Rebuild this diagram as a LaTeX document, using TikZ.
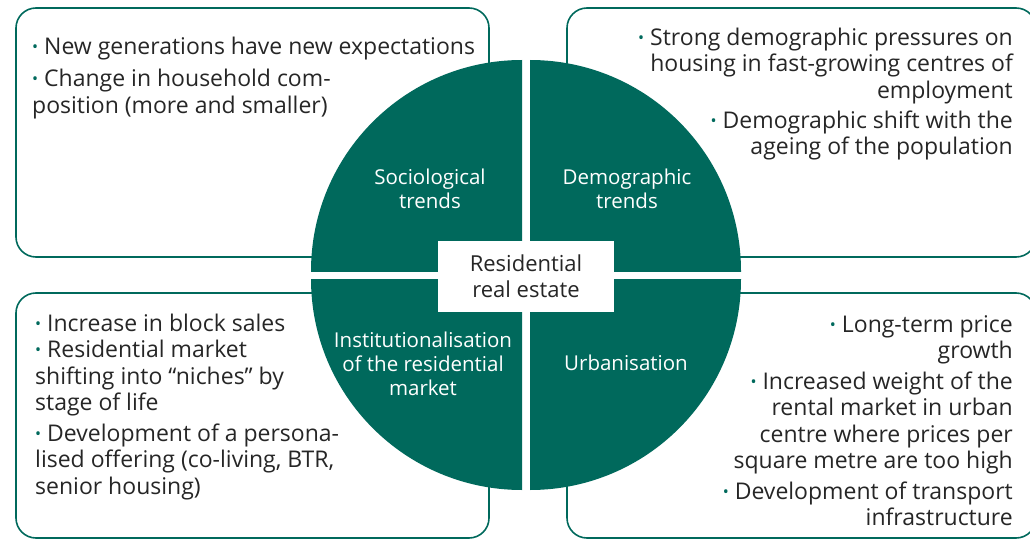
\documentclass[tikz,border=0pt]{standalone}
\usepackage{fontspec}
\setmainfont{Open Sans}
\usetikzlibrary{positioning}
\definecolor{forest}{HTML}{00695C}
\definecolor{ink}{HTML}{262626}
\tikzstyle{trendbox}=[
	rounded corners=20,
	draw=forest,
	line width=1.6]
\tikzstyle{points}=[
	inner sep=0,
	text=ink,
	font=\fontsize{23}{26.5}\selectfont]
\tikzstyle{quarter}=[
	text=white,
	align=center,
	font=\fontsize{20.5}{24}\selectfont]
\newcommand{\bul}{\raisebox{2pt}{\color{forest}\fontsize{16}{16}\selectfont•}\ }

\begin{document}
\begin{tikzpicture}[x=1pt,y=-1pt]
	\useasboundingbox (0,0) rectangle (1030,540);
	\clip (0,0) rectangle (1030,540);
	% the four frames
	\draw[trendbox] (16,8) rectangle (489,257);
	\draw[trendbox] (567,8) rectangle (1036,257);
	\draw[trendbox] (16,293) rectangle (489,538);
	\draw[trendbox] (567,293) rectangle (1036,538);
	% the disc, cut in quarters
	\begin{scope}
		\clip (0,0) rectangle (522,271);
		\fill[forest] (522,271) circle (211pt);
	\end{scope}
	\begin{scope}
		\clip (530,0) rectangle (1030,271);
		\fill[forest] (530,271) circle (211pt);
	\end{scope}
	\begin{scope}
		\clip (0,279) rectangle (522,540);
		\fill[forest] (522,279) circle (211pt);
	\end{scope}
	\begin{scope}
		\clip (530,279) rectangle (1030,540);
		\fill[forest] (530,279) circle (211pt);
	\end{scope}
	\node[fill=white,minimum width=176,minimum height=71,align=center,text=ink,
		font=\fontsize{22}{26}\selectfont] (core) at (526,276.5) {Residential\\real estate};
	\node[quarter] (soc) at (430,189) {Sociological\\trends};
	\node[quarter] (dem) at (627,189) {Demographic\\trends};
	\node[quarter] (ins) at (423,364) {Institutionalisation\\of the residential\\market};
	\node[quarter] (urb) at (626,363) {Urbanisation};
	% bullet texts
	\node[points,anchor=north west,align=left] (socio) at (32,37)
		{\bul New generations have new expectations\\[5.5pt]
		\bul Change in household com-\\position (more and smaller)};
	\node[points,anchor=north east,align=right] (demo) at (1013,27.5)
		{\bul Strong demographic pressures on\\housing in fast-growing centres of\\employment\\[3.5pt]
		\bul Demographic shift with the\\ageing of the population};
	\node[points,anchor=north west,align=left] (inst) at (35,313.5)
		{\bul Increase in block sales\\\bul Residential market\\shifting into “niches” by\\stage of life\\[4pt]
		\bul Development of a persona-\\lised offering (co-living, BTR,\\senior housing)};
	\node[points,anchor=north east,align=right] (urban) at (1013,315)
		{\bul Long-term price\\growth\\[4pt]
		\bul Increased weight of the\\rental market in urban\\centre where prices per\\square metre are too high\\[4pt]
		\bul Development of transport\\infrastructure};
\end{tikzpicture}
\end{document}
